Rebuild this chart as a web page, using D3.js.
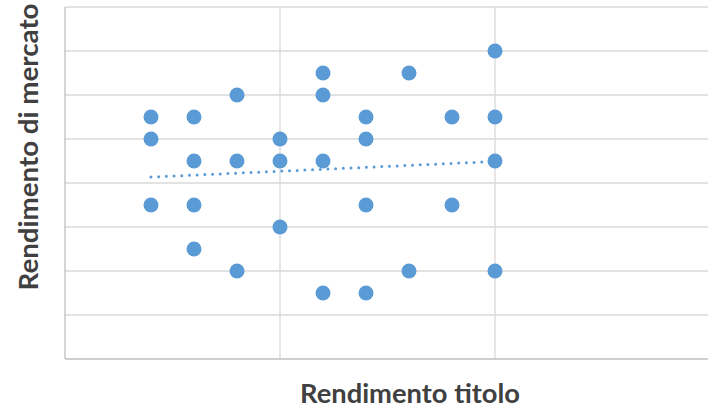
<!DOCTYPE html>
<html>
<head>
<meta charset="utf-8">
<script src="https://cdn.jsdelivr.net/npm/d3@7"></script>
<style>
  html, body { margin: 0; padding: 0; background: #ffffff; }
  svg { display: block; }
</style>
</head>
<body>
<div id="chart"></div>
<script>
// ---- data ----
const xValues = [2, 2, 2, 3, 3, 3, 3, 4, 4, 4, 5, 5, 5, 6, 6, 6, 6, 7, 7, 7, 7, 8, 8, 9, 9, 10, 10, 10, 10];
const yValues = [11, 10, 7, 11, 9, 7, 5, 12, 9, 4, 10, 9, 6, 13, 12, 9, 3, 11, 10, 7, 3, 13, 4, 11, 7, 14, 11, 9, 4];
const trendX = [2, 10];
const trendY = [8.27, 8.98];
const xGridTicks = [0, 5, 10, 15];
const yGridTicks = [0, 2, 4, 6, 8, 10, 12, 14, 16];
const xTitle = "Rendimento titolo";
const yTitle = "Rendimento di mercato";

const W = 708, H = 408;
const svg = d3.select("#chart").append("svg").attr("width", W).attr("height", H);

const x = d3.scaleLinear().domain([0, 15]).range([65, 710]);
const y = d3.scaleLinear().domain([0, 16]).range([359, 7]);

// horizontal gridlines
svg.append("g").selectAll("line").data(yGridTicks.filter(d => d > 0)).join("line")
  .attr("x1", x(0)).attr("x2", x(15))
  .attr("y1", d => y(d)).attr("y2", d => y(d))
  .attr("stroke", "#d9d9d9").attr("stroke-width", 1.3);

// vertical gridlines
svg.append("g").selectAll("line").data(xGridTicks.filter(d => d > 0)).join("line")
  .attr("x1", d => x(d)).attr("x2", d => x(d))
  .attr("y1", y(0)).attr("y2", y(16))
  .attr("stroke", "#d9d9d9").attr("stroke-width", 1.3);

// axes lines
svg.append("line").attr("x1", x(0)).attr("x2", x(0)).attr("y1", y(0)).attr("y2", y(16))
  .attr("stroke", "#bfbfbf").attr("stroke-width", 1.3);
svg.append("line").attr("x1", x(0)).attr("x2", x(15)).attr("y1", y(0)).attr("y2", y(0))
  .attr("stroke", "#bfbfbf").attr("stroke-width", 1.3);

// trendline (dotted)
const line = d3.line().x((d, i) => x(trendX[i])).y(d => y(d));
svg.append("path").datum(trendY).attr("d", line)
  .attr("fill", "none").attr("stroke", "#5b9bd5").attr("stroke-width", 3)
  .attr("stroke-linecap", "round").attr("stroke-dasharray", "0 7.7");

// points
svg.append("g").selectAll("circle").data(xValues.map((v, i) => [v, yValues[i]])).join("circle")
  .attr("cx", d => x(d[0])).attr("cy", d => y(d[1])).attr("r", 7.5)
  .attr("fill", "#5b9bd5");

// titles
svg.append("text").text(xTitle)
  .attr("x", 410).attr("y", 403).attr("text-anchor", "middle")
  .attr("font-family", "Lato, 'Open Sans', sans-serif").attr("font-weight", "bold")
  .attr("font-size", 26).attr("fill", "#404040")
  .attr("textLength", 220).attr("lengthAdjust", "spacingAndGlyphs");

svg.append("text").text(yTitle)
  .attr("transform", "translate(38,147) rotate(-90)")
  .attr("text-anchor", "middle")
  .attr("font-family", "Lato, 'Open Sans', sans-serif").attr("font-weight", "bold")
  .attr("font-size", 26).attr("fill", "#404040")
  .attr("textLength", 287).attr("lengthAdjust", "spacingAndGlyphs");
</script>
</body>
</html>
